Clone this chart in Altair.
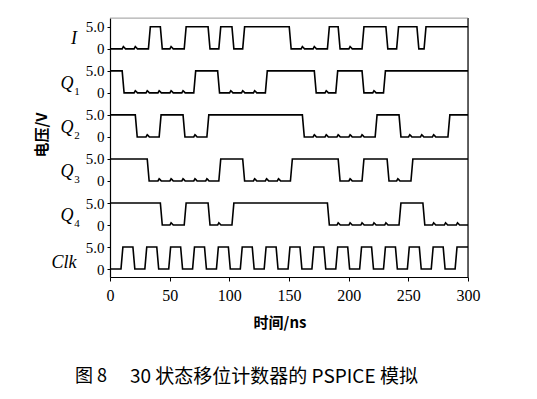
import altair as alt
import pandas as pd

# ---- data ----
X_TICKS = [0, 50, 100, 150, 200, 250, 300]
SIGNALS = ["I", "Q1", "Q2", "Q3", "Q4", "Clk"]
ROW_BASE = [50, 40, 30, 20, 10, 0]       # vertical offset of each trace
START_LEVEL = [0, 5, 5, 5, 5, 0]         # level at t = 0 (V)
I_T = [33, 43, 63, 83, 92, 103, 112, 151, 183, 192, 212, 232, 241, 258, 264]
Q1_T = [11, 71, 91, 131, 172, 190, 212, 230]
Q2_T = [22, 42, 62, 82, 162, 223, 243, 284]
Q3_T = [32, 92, 112, 152, 192, 212, 233, 253]
Q4_T = [43, 63, 83, 103, 183, 243, 263]
CLK_T = [10, 20, 30, 40, 50, 60, 70, 80, 90, 100, 110, 120, 130, 140, 150,
         160, 170, 180, 190, 200, 210, 220, 230, 240, 250, 260, 270, 280, 290]
TRANSITIONS = [I_T, Q1_T, Q2_T, Q3_T, Q4_T, CLK_T]
GLITCH_V = 0.5          # small bumps seen on the low level at clock edges
HIGH_V = 5.0
T_END = 300

rows = []
for k, name in enumerate(SIGNALS):
    trans = TRANSITIONS[k]
    lvl = START_LEVEL[k]
    pts = [(0.0, lvl)]
    cur = lvl
    for t in trans:
        nxt = HIGH_V - cur
        pts.append((t - 0.8, cur))
        pts.append((t + 0.8, nxt))
        cur = nxt
    if name != "Clk":
        def level_at(tt, trans=trans, lvl=lvl):
            n = sum(1 for x in trans if x <= tt)
            return lvl if n % 2 == 0 else HIGH_V - lvl
        for e in CLK_T:
            if level_at(e) == 0 and all(abs(e - x) > 4 for x in trans):
                pts += [(e + 0.2, 0.0), (e + 1.2, GLITCH_V), (e + 2.0, GLITCH_V * 0.6),
                        (e + 3.0, 0.0)]
    pts.append((float(T_END), cur))
    pts.sort(key=lambda p: p[0])
    for i, (t, v) in enumerate(pts):
        rows.append({"sig": name, "t": t, "v": v + ROW_BASE[k], "o": i})
wave = pd.DataFrame(rows)

xs = alt.Scale(domain=[0, 300], nice=False)
ys = alt.Scale(domain=[-1.8, 57], nice=False)
Y_TICKS = sorted(float(b + d) for b in ROW_BASE for d in (0, 5))

Y_AXIS = alt.Axis(values=Y_TICKS, title=None, grid=False,
                  labelExpr="datum.value % 10 == 0 ? '0' : '5.0'",
                  labelOverlap=False, labelFlush=False,
                  labelFont="Liberation Serif", labelFontSize=15, labelColor="black",
                  tickColor="black", domainColor="black", tickSize=3, labelPadding=3,
                  domainWidth=1.2)

lines = alt.Chart(wave).mark_line(color="black", strokeWidth=1.6).encode(
    x=alt.X("t:Q", scale=xs,
            axis=alt.Axis(values=X_TICKS, title=None, grid=False, labelFont="Liberation Serif",
                          labelFontSize=16, labelColor="black", tickColor="black", domainColor="black",
                          tickSize=4, labelPadding=6, labelFlush=False, domainWidth=1.2,
                          labelOverlap=False)),
    y=alt.Y("v:Q", scale=ys, axis=Y_AXIS),
    detail="sig:N",
    order="o:Q",
)

# row names
main_lab = pd.DataFrame({
    "txt": ["I", "Q", "Q", "Q", "Q", "Clk"],
    "y": [52.2, 42.0, 32.0, 22.0, 12.0, 1.4],
    "px": [-36, -43, -43, -43, -43, -46],
})
sub_lab = pd.DataFrame({
    "txt": ["1", "2", "3", "4"],
    "y": [40.3, 30.3, 20.3, 10.3],
    "px": [-33, -33, -33, -33],
})
names = alt.Chart(main_lab).mark_text(font="Liberation Serif", fontSize=18, fontStyle="italic",
                                      color="black", baseline="middle", align="center").encode(
    x=alt.X("px:Q", scale=None), y=alt.Y("y:Q", scale=ys, axis=Y_AXIS), text="txt:N")
subs = alt.Chart(sub_lab).mark_text(font="Liberation Serif", fontSize=11,
                                    color="black", baseline="middle", align="center").encode(
    x=alt.X("px:Q", scale=None), y=alt.Y("y:Q", scale=ys, axis=Y_AXIS), text="txt:N")

frame_df = pd.DataFrame({"a": [0]})
right_rule = alt.Chart(frame_df).mark_rule(color="black", strokeWidth=1.2).encode(
    x=alt.value(358), y=alt.value(0), y2=alt.value(259))
top_rule = alt.Chart(frame_df).mark_rule(color="#999999", strokeWidth=0.8).encode(
    x=alt.value(0), x2=alt.value(358), y=alt.value(0))

ytitle = alt.Chart(frame_df).mark_text(text="电压/V", font="Noto Sans CJK SC", fontSize=15,
                                       fontWeight="bold", angle=270, color="black",
                                       baseline="middle", align="center").encode(
    x=alt.value(-68), y=alt.value(117))
xtitle = alt.Chart(frame_df).mark_text(text="时间/ns", font="Noto Sans CJK SC", fontSize=15,
                                       fontWeight="bold", color="black",
                                       baseline="middle", align="center").encode(
    x=alt.value(170), y=alt.value(305))
cap1 = alt.Chart(frame_df).mark_text(text="图 8", font="Noto Sans CJK SC", fontSize=18,
                                     color="black", baseline="middle", align="left").encode(
    x=alt.value(-35), y=alt.value(359))
cap2 = alt.Chart(frame_df).mark_text(text="30 状态移位计数器的 PSPICE 模拟",
                                     font="Noto Sans CJK SC", fontSize=19, color="black",
                                     baseline="middle", align="left").encode(
    x=alt.value(20), y=alt.value(359))

chart = alt.layer(lines, names, subs, right_rule, top_rule, ytitle, xtitle, cap1, cap2).properties(
    width=358, height=259,
    autosize=alt.AutoSizeParams(type="none"),
    padding={"left": 102, "top": 10, "right": 55, "bottom": 115},
).configure_view(stroke=None).configure(background="white")

chart.save("out.html", embed_options={"renderer": "svg", "actions": False})
